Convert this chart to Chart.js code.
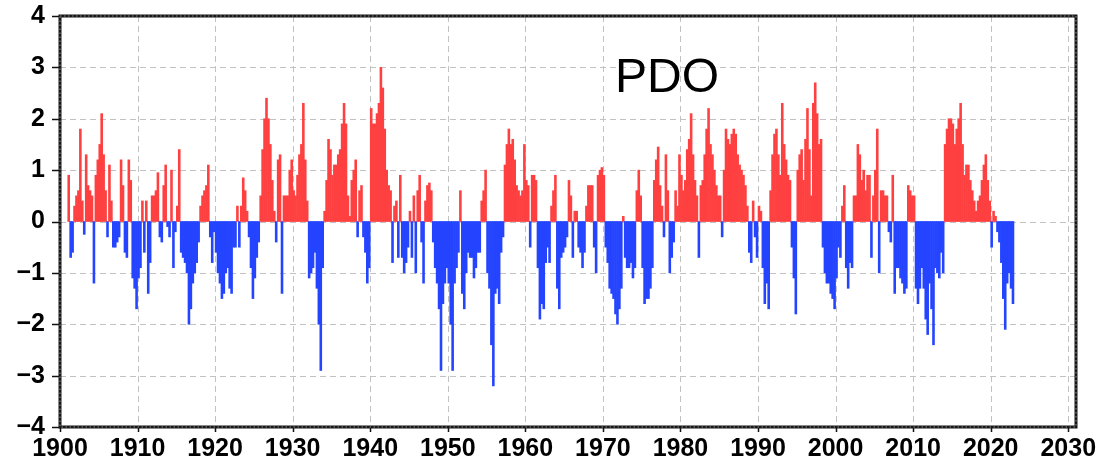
<!DOCTYPE html>
<html>
<head>
<meta charset="utf-8">
<title>PDO index</title>
<script src="https://cdn.jsdelivr.net/npm/chart.js@4.4.1/dist/chart.umd.min.js"></script>
<style>
    html, body { margin: 0; padding: 0; background: #ffffff; }
    #wrap { width: 1114px; height: 462px; }
</style>
</head>
<body>
<div id="wrap"><canvas id="pdoChart" width="1114" height="462"></canvas></div>
<script>
// PDO index (Jan 1901 .. Dec 2022)
const startYear = 1901;
const perYear = 4;

const pdo1901 = [
    0.9, -0.7, -0.6, 0.3,   0.5, 0.6, 1.8, 0.4,   -0.25, 1.3, 0.7, 0.6,   0.5, -1.2, 0.9, 1.2,
    1.5, 2.1, 1.3, 0.6,   -0.3, 1.1, 0.4, -0.5,   -0.5, -0.4, -0.3, 1.2,   0.7, -0.6, -0.7, 1.2,
    0.8, -1.1, -1.3, -1.7,   -1.1, -0.9, 0.4, -0.6
];
const pdo1911 = [
    0.4, -1.4, -0.8, 0.5,   0.5, 0.6, 0.95, -0.3,   -0.4, 0.7, 1.1, -0.1,   -0.3, 1.0, -0.9, -0.2,
    0.3, 1.4, -0.6, -0.7,   -0.8, -1.0, -2.0, -1.7,   -1.2, -1.0, -0.8, -0.4,   0.3, 0.5, 0.6, 0.7,
    1.1, -0.3, -0.8, -0.2,   -0.6, -1.0, -1.2, -1.5
];
const pdo1921 = [
    -1.4, -1.0, -0.9, -1.3,   -1.4, -0.5, -0.5, 0.3,   -0.5, 0.3, 0.85, 0.6,   0.2, -0.3, -0.9, -1.5,
    -1.1, -0.7, -0.4, 0.5,   1.4, 2.0, 2.4, 2.0,   1.5, 0.8, 0.2, -0.4,   1.2, 1.3, -1.4, 0.5,
    0.5, 0.5, 1.0, 1.2,   0.6, 0.5, 0.9, 1.3
];
const pdo1931 = [
    1.5, 2.3, 1.2, 0.4,   -1.1, -1.0, -0.9, -0.6,   -1.3, -2.0, -2.9, -0.9,   0.2, 0.8, 1.6, 1.4,
    0.9, 1.1, 1.1, 1.3,   1.4, 1.9, 2.3, 1.9,   0.5, 0.1, 0.8, 1.0,   1.2, -0.3, 0.6, 0.7,
    -0.3, -0.6, -1.2, -0.9,   2.2, 1.9, 1.9, 2.1
];
const pdo1941 = [
    2.3, 3.0, 2.6, 1.8,   1.0, 0.7, 0.6, -0.8,   0.3, 0.4, -0.7, 0.9,   -0.7, -1.0, -0.8, -0.5,
    0.2, -0.7, 0.5, -1.0,   0.6, 0.9, -0.4, -1.2,   0.4, 0.7, 0.75, 0.6,   -0.4, -0.9, -1.2, -1.7,
    -2.9, -1.6, -1.2, -0.9,   -1.2, -2.0, -2.9, -1.2
];
const pdo1951 = [
    -0.9, -0.6, 0.6, -1.4,   -1.7, -1.0, -0.6, -0.7,   -0.7, -1.1, -0.9, -0.6,   -0.6, 0.4, 0.6, 1.0,
    -1.0, -1.3, -2.4, -3.2,   -1.4, -1.3, -1.6, -0.6,   -0.3, 1.1, 1.5, 1.8,   1.5, 1.6, 1.2, 0.7,
    0.6, 0.5, 0.6, 1.5,   0.8, 0.7, -0.5, 0.9
];
const pdo1961 = [
    0.9, 0.8, -0.9, -1.9,   -1.6, -1.7, -0.8, -0.5,   -0.8, 0.3, 0.6, 0.9,   -1.3, -1.7, -0.7, -0.6,
    -0.5, -0.3, 0.8, 0.5,   -0.7, 0.2, 0.2, -0.5,   -0.6, -0.9, -0.6, 0.3,   0.7, 0.7, 0.7, -0.5,
    -1.0, 0.9, 1.0, 1.05,   0.9, -0.5, -0.8, -1.3
];
const pdo1971 = [
    -1.4, -1.5, -1.8, -2.0,   -1.7, -1.3, 0.1, -0.7,   -0.9, -0.9, -0.8, -1.1,   -0.9, 0.6, 1.0, 0.5,
    -0.9, -1.6, -1.5, -1.5,   -1.3, -0.9, 0.8, 1.2,   1.45, 0.7, 0.3, -0.3,   1.3, 0.6, -1.0, -0.7,
    -0.4, 0.6, 0.3, 1.3,   0.9, 0.6, 0.8, 1.4
];
const pdo1981 = [
    1.6, 2.1, 1.3, 0.8,   0.5, -0.7, 0.7, 0.8,   1.3, 1.8, 2.2, 1.5,   1.3, 1.0, 0.7, 0.5,
    0.5, -0.3, 1.0, 1.8,   1.6, 1.5, 1.7, 1.8,   1.7, 1.3, 1.1, 1.0,   0.9, 0.7, 0.3, -0.6,
    -0.8, 0.4, -0.3, -0.7,   0.3, 0.2, -0.9, -1.6
];
const pdo1991 = [
    -1.2, -1.7, 0.6, 1.3,   1.7, 1.8, 1.3, 0.9,   2.3, 1.5, 1.2, 0.9,   0.8, -0.5, -1.1, -1.8,
    1.0, 1.3, 1.4, 0.8,   1.6, 2.2, 1.4, 0.5,   2.3, 2.7, 2.1, 1.5,   1.6, -0.5, -1.0, -1.2,
    -1.2, -1.4, -1.5, -1.7,   -1.1, -0.5, -0.7, 0.3
];
const pdo2001 = [
    0.7, -0.9, -1.3, -0.8,   -0.9, 0.5, 0.5, 1.5,   1.3, 0.8, 1.0, 0.6,   0.9, 0.9, -0.7, 0.5,
    1.0, 1.8, -1.0, 0.6,   0.6, 0.5, 0.5, -0.2,   -0.4, 0.9, -1.4, -0.9,   -0.9, -1.1, -1.2, -1.4,
    -1.3, 0.7, 0.6, 0.5,   0.5, -1.3, -1.6, -1.3
];
const pdo2011 = [
    -0.9, -1.3, -1.9, -2.2,   -1.2, -1.7, -2.4, -0.9,   -1.0, -1.1, -0.6, -1.0,   1.5, 1.8, 2.0, 2.0,
    1.9, 1.5, 1.8, 2.0,   2.3, 1.5, 0.9, 1.1,   1.1, 0.8, 0.6, 0.4,   0.2, 0.4, 0.5, 0.8,
    1.1, 1.3, 0.8, 0.4,   -0.5, 0.2, 0.1, -0.2
];
const pdo2021 = [
    -0.4, -0.8, -1.5, -2.1,   -1.2, -1.0, -1.3, -1.6
];

const xTickYears = [1900, 1910, 1920, 1930, 1940, 1950, 1960, 1970, 1980, 1990, 2000, 2010, 2020, 2030];
const yTickValues = [-4, -3, -2, -1, 0, 1, 2, 3, 4];
const titleText = 'PDO';

const redBar = '#ff4040';
const blueBar = '#2444ff';
const fontFamily = '"Liberation Sans", Arial, Helvetica, sans-serif';

const pdoValues = [].concat(pdo1901, pdo1911, pdo1921, pdo1931, pdo1941, pdo1951,
    pdo1961, pdo1971, pdo1981, pdo1991, pdo2001, pdo2011, pdo2021);

const pdoPoints = pdoValues.map((v, i) => ({ x: startYear + (i + 0.5) / perYear, y: v }));
const pdoColors = pdoValues.map(v => (v >= 0 ? redBar : blueBar));

function minusLabel(value) {
    return value < 0 ? '\u2212' + Math.abs(value) : String(value);
}

// dashed grid, heavy frame, outside tick marks and the PDO label
const pdoDecor = {
    id: 'pdoDecor',
    beforeDatasetsDraw(chart) {
        const { ctx, chartArea: a, scales: { x, y } } = chart;
        ctx.save();
        ctx.strokeStyle = '#c2c2c2';
        ctx.lineWidth = 1;
        ctx.setLineDash([6, 4]);
        ctx.beginPath();
        xTickYears.forEach(v => {
            const px = Math.round(x.getPixelForValue(v)) + 0.5;
            ctx.moveTo(px, a.top);
            ctx.lineTo(px, a.bottom);
        });
        yTickValues.forEach(v => {
            const py = Math.round(y.getPixelForValue(v)) + 0.5;
            ctx.moveTo(a.left, py);
            ctx.lineTo(a.right, py);
        });
        ctx.stroke();
        ctx.restore();
    },
    afterDatasetsDraw(chart) {
        const { ctx, chartArea: a, scales: { x, y } } = chart;
        ctx.save();

        // tick marks
        ctx.strokeStyle = '#111111';
        ctx.lineWidth = 1.5;
        ctx.beginPath();
        yTickValues.forEach(v => {
            const py = Math.round(y.getPixelForValue(v)) + 0.5;
            ctx.moveTo(a.left - 8, py);
            ctx.lineTo(a.left, py);
        });
        xTickYears.forEach(v => {
            const px = Math.round(x.getPixelForValue(v)) + 0.5;
            ctx.moveTo(px, a.bottom);
            ctx.lineTo(px, a.bottom + 5);
        });
        ctx.stroke();

        // frame
        ctx.strokeStyle = '#161616';
        ctx.lineWidth = 3;
        ctx.strokeRect(a.left, a.top, a.right - a.left, a.bottom - a.top);
        ctx.strokeStyle = '#8c8c8c';
        ctx.lineWidth = 1;
        ctx.setLineDash([1.5, 2.5]);
        ctx.strokeRect(a.left, a.top, a.right - a.left, a.bottom - a.top);
        ctx.setLineDash([]);

        // label
        ctx.fillStyle = '#000000';
        ctx.font = '48px ' + fontFamily;
        ctx.textAlign = 'left';
        ctx.textBaseline = 'alphabetic';
        ctx.fillText(titleText, 615, 92);
        ctx.restore();
    }
};

const ctx = document.getElementById('pdoChart').getContext('2d');

new Chart(ctx, {
    type: 'bar',
    data: {
        datasets: [{
            label: titleText,
            data: pdoPoints,
            backgroundColor: pdoColors,
            borderWidth: 0,
            barPercentage: 1.0,
            categoryPercentage: 1.0
        }]
    },
    options: {
        responsive: false,
        animation: false,
        devicePixelRatio: 1,
        layout: {
            padding: { top: 16, right: 38, bottom: 0, left: 0 }
        },
        plugins: {
            legend: { display: false },
            tooltip: { enabled: false },
            title: { display: false }
        },
        scales: {
            x: {
                type: 'linear',
                offset: false,
                min: 1900,
                max: 2031,
                afterFit: scale => { scale.height = 35; },
                afterBuildTicks: scale => {
                    scale.ticks = xTickYears.map(v => ({ value: v }));
                },
                grid: { display: false, drawTicks: false, offset: false },
                border: { display: false },
                ticks: {
                    autoSkip: false,
                    maxRotation: 0,
                    padding: 7,
                    color: '#000000',
                    font: { family: fontFamily, size: 25, weight: 'bold' },
                    callback: value => String(value)
                }
            },
            y: {
                min: -4,
                max: 4,
                afterFit: scale => {
                    scale.width = 60;
                    // labels may overhang the frame, keep the plot edges fixed
                    scale.paddingTop = 0;
                    scale.paddingBottom = 0;
                },
                afterBuildTicks: scale => {
                    scale.ticks = yTickValues.map(v => ({ value: v }));
                },
                grid: { display: false, drawTicks: false },
                border: { display: false },
                ticks: {
                    padding: 15,
                    color: '#000000',
                    font: { family: fontFamily, size: 25, weight: 'bold' },
                    callback: value => minusLabel(value)
                }
            }
        }
    },
    plugins: [pdoDecor]
});
</script>
</body>
</html>
